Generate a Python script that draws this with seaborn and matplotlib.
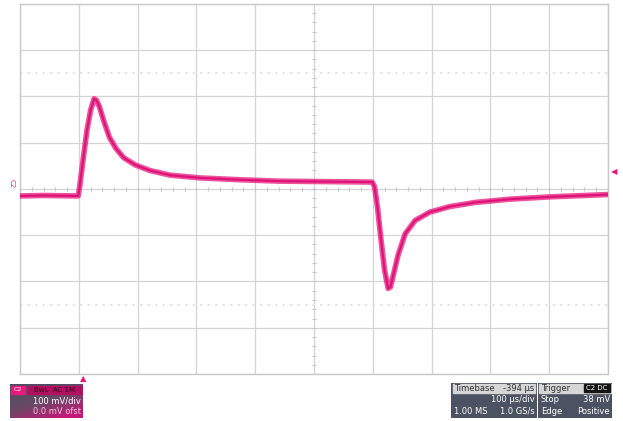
import matplotlib.pyplot as plt
import seaborn as sns
import pandas as pd
import numpy as np

# trace: time in us from left edge, voltage in mV (100 mV/div)
time_us = [0, 40, 99, 102, 108, 114, 120, 126, 130, 135, 143, 152, 163, 176, 196,
           221, 255, 306, 374, 440, 520, 599,
           603, 608, 614, 620, 626, 630, 636, 643, 655, 672, 697, 731, 774, 833, 901, 960, 1000]
volts_mv = [-15, -14, -15, 10, 70, 128, 170, 195, 192, 178, 145, 112, 88, 68, 52,
            40, 30, 24, 20, 17, 16, 15,
            5, -40, -110, -175, -215, -212, -180, -143, -97, -68, -50, -38, -29, -22, -17, -14, -12]

pink = "#e8197d"

df = pd.DataFrame({"t": time_us, "v": volts_mv})

sns.set_style("white")
fig = plt.figure(figsize=(6.23, 4.21), dpi=100)
ax = fig.add_axes([20 / 623, 1 - 374 / 421, 588 / 623, 370 / 421])

# graticule
for x in range(0, 1001, 100):
    ax.axvline(x, color="#d4d4d4", lw=0.9, zorder=0)
for y in range(-400, 401, 100):
    ax.axhline(y, color="#d4d4d4", lw=0.9, zorder=0)
for y in [-250, 250]:
    ax.axhline(y, color="#e2e2e2", lw=1.2, ls=(0, (1.5, 3)), zorder=0)
ax.plot(np.arange(0, 1001, 20), np.zeros(51), ls="none", marker="|", ms=3, color="#c8c8c8", mew=0.8)
ax.plot(np.full(41, 500), np.arange(-400, 401, 20), ls="none", marker="_", ms=3, color="#c8c8c8", mew=0.8)

sns.lineplot(data=df, x="t", y="v", ax=ax, color=pink, lw=4.0, alpha=0.75, zorder=3)
sns.lineplot(data=df, x="t", y="v", ax=ax, color="#df1277", lw=1.6, zorder=4)

ax.set_xlim(0, 1000)
ax.set_ylim(-400, 400)
ax.set_xticks([])
ax.set_yticks([])
ax.set_xlabel("")
ax.set_ylabel("")
for s in ax.spines.values():
    s.set_color("#c8c8c8")
    s.set_linewidth(1.0)

# markers around graticule
fig.text(83 / 623, 1 - 379 / 421, "\u25b2", color=pink, fontsize=6, ha="center", va="center")
fig.text(614 / 623, 1 - 172 / 421, "\u25c0", color=pink, fontsize=6, ha="center", va="center")
fig.text(12 / 623, 1 - 184 / 421, "C2", color=pink, fontsize=5, ha="center", va="center", rotation=-90)

# channel box
cax = fig.add_axes([10 / 623, 1 - 418 / 421, 73 / 623, 34 / 421])
grad = np.linspace(0, 1, 100)[None, :] * np.ones((20, 1))
grad = grad * 0.5 + np.linspace(0, 0.9, 20)[:, None]
cax.imshow(grad, aspect="auto", cmap=sns.blend_palette(["#4b5060", "#6a4a66", "#c8167a"], as_cmap=True),
           extent=[0, 1, 1, 0], vmin=0.15, vmax=1.3)
cax.add_patch(plt.Rectangle((0.02, 0.05), 0.18, 0.24, color=pink))
cax.add_patch(plt.Rectangle((0.24, 0.05), 0.74, 0.24, color="#b0105f"))
cax.text(0.11, 0.17, "C2", color="white", fontsize=4.5, ha="center", va="center")
cax.text(0.61, 0.17, "BwL  AC 1M", color="#2a0c1c", fontsize=5, ha="center", va="center")
cax.text(0.97, 0.5, "100 mV/div", color="white", fontsize=6, ha="right", va="center")
cax.text(0.97, 0.82, "0.0 mV ofst", color="#f3c6dc", fontsize=6, ha="right", va="center")
cax.set_xlim(0, 1)
cax.set_ylim(1, 0)
cax.axis("off")

# timebase and trigger boxes
def info_box(x0, x1, header, header_right, rows):
    bx = fig.add_axes([x0 / 623, 1 - 418 / 421, (x1 - x0) / 623, 35 / 421])
    bx.add_patch(plt.Rectangle((0, 0), 1, 1, color="#4d5262"))
    bx.add_patch(plt.Rectangle((0.02, 0.02), 0.96, 0.26, color="#d6d6d6"))
    bx.text(0.04, 0.15, header, color="#303030", fontsize=6, ha="left", va="center")
    if header_right:
        bx.text(0.97, 0.15, header_right, color="#303030", fontsize=6, ha="right", va="center")
    for i, (l, r) in enumerate(rows):
        y = 0.48 + i * 0.32
        bx.text(0.04, y, l, color="white", fontsize=6, ha="left", va="center")
        bx.text(0.97, y, r, color="white", fontsize=6, ha="right", va="center")
    bx.set_xlim(0, 1)
    bx.set_ylim(1, 0)
    bx.axis("off")
    return bx

info_box(451, 537, "Timebase", "-394 \u00b5s", [("", "100 \u00b5s/div"), ("1.00 MS", "1.0 GS/s")])
tb = info_box(538, 612, "Trigger", "", [("Stop", "38 mV"), ("Edge", "Positive")])
tb.add_patch(plt.Rectangle((0.62, 0.04), 0.35, 0.22, color="#151515"))
tb.text(0.795, 0.15, "C2 DC", color="white", fontsize=5, ha="center", va="center")

plt.savefig("out.png", dpi=100)
